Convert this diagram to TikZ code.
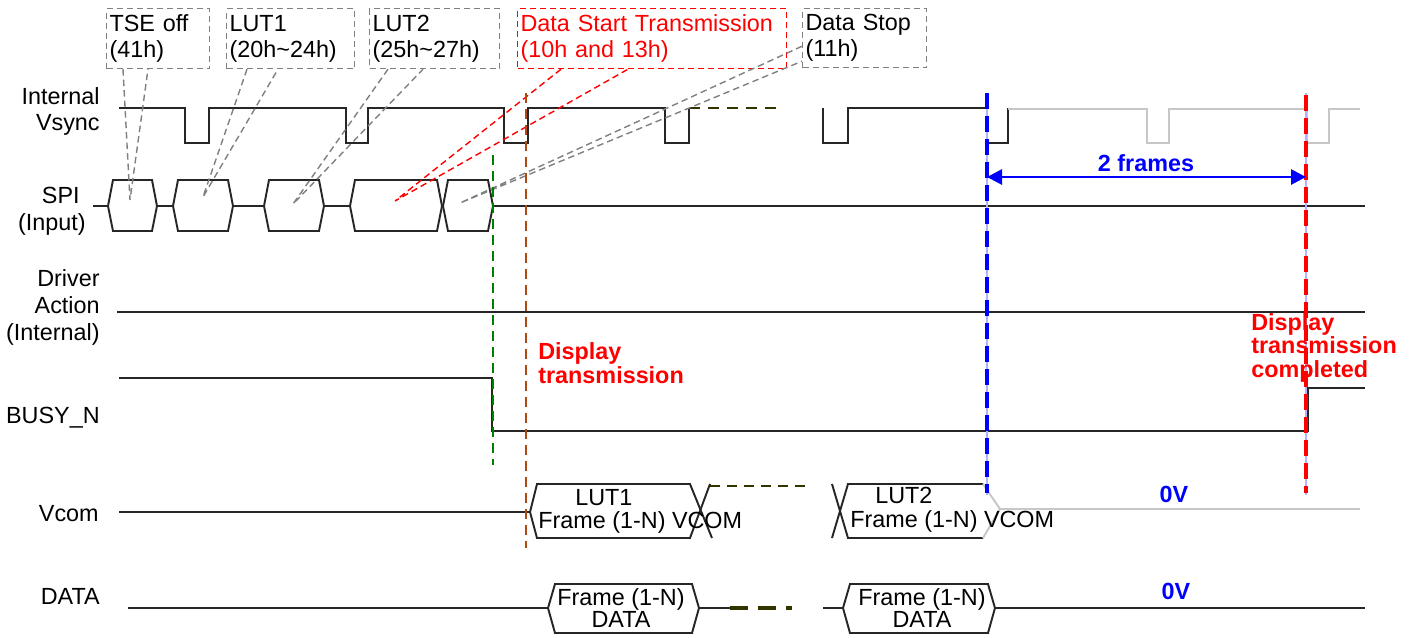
\documentclass[tikz,border=0pt]{standalone}
\usepackage{fontspec}
\setmainfont{Liberation Sans}
\usetikzlibrary{arrows.meta}
\definecolor{rust}{RGB}{176,72,16}
\definecolor{moss}{RGB}{51,51,0}

\begin{document}
\begin{tikzpicture}[x=0.02cm,y=-0.02cm,
        every node/.style={font=\fontsize{13.3}{14.7}\selectfont,inner sep=0pt},
        sig/.style={line width=1.1pt,black!85},
        ghost/.style={line width=1.1pt,black!22},
        note/.style={draw=gray,dash pattern=on 0.12cm off 0.08cm,line width=0.7pt,anchor=north west,align=left,inner xsep=0.06cm,minimum height=1.2cm},
        pointer/.style={gray,dash pattern=on 0.13cm off 0.08cm,line width=0.8pt},
        more/.style={moss,line width=1.1pt,dash pattern=on 0.22cm off 0.16cm},
        guide/.style={line width=1.2pt,dash pattern=on 0.2cm off 0.12cm},
        frame/.style={line width=2.3pt,dash pattern=on 0.32cm off 0.14cm},
        warn/.style={red,font=\fontsize{13.3}{13.2}\selectfont\bfseries,align=left},
        level/.style={blue,font=\fontsize{13.3}{14.7}\selectfont\bfseries}
    ]
    \useasboundingbox (0,0) rectangle (1418,637);

    \node[anchor=base east,align=right] (lvs) at (100,130) {Internal\\Vsync};
    \node[anchor=base east] (lspi) at (80,203) {SPI};
    \node[anchor=base east] (lin) at (86,230) {(Input)};
    \node[anchor=base east,align=right,font=\fontsize{13.3}{15.2}\selectfont] (ldrv) at (100,340) {Driver\\Action\\(Internal)};
    \node[anchor=base east] (lbusy) at (100,423) {BUSY\_N};
    \node[anchor=base east] (lvcom) at (99,521) {Vcom};
    \node[anchor=base east] (ldata) at (100,604) {DATA};

    \node[note,text width=1.94cm] (tse) at (106,8) {TSE off\\(41h)};
    \node[note,text width=2.44cm] (lutA) at (226,8) {LUT1\\(20h\textasciitilde24h)};
    \node[note,text width=2.48cm] (lutB) at (369,8) {LUT2\\(25h\textasciitilde27h)};
    \node[note,draw=red,text=red,text width=5.26cm] (start) at (517,8) {Data Start Transmission\\(10h and 13h)};
    \node[note,text width=2.36cm,minimum height=1.18cm] (stop) at (802,8) {Data Stop\\(11h)};

    \draw[sig] (119,108) -| (185,143) -| (209,108) -| (346,143) -| (368,108) -| (504,143) -| (528,108) -| (665,143) -| (689,108);
    \draw[more] (689,108) -- (783,108);
    \draw[sig] (823,108) |- (848,143) |- (987,108) |- (1008,143) -- (1008,108);
    \draw[ghost] (1008,109) -| (1147,143) -| (1169,109) -| (1307,143) -| (1329,109) -- (1360,109);

    \foreach \a/\b in {108/157,173/233,264/324,350/442,443/493}
        \draw[sig] (\a,206) -- (\a+5,180) -- (\b-5,180) -- (\b,206) -- (\b-5,231) -- (\a+5,231) -- cycle;
    \draw[sig] (93,206) -- (108,206) (157,206) -- (173,206) (233,206) -- (264,206) (324,206) -- (350,206) (493,206) -- (1365,206);

    \coordinate (pTSE) at (130,200);
    \coordinate (pLUTA) at (203,197);
    \coordinate (pLUTB) at (293,204);
    \coordinate (pStart) at (395,201);
    \coordinate (pStop) at (460,203);
    \draw[pointer] ([xshift=0.34cm]tse.south west) -- (pTSE) -- ([xshift=0.84cm]tse.south west);
    \draw[pointer] ([xshift=0.42cm]lutA.south west) -- (pLUTA) -- ([xshift=1.04cm]lutA.south west);
    \draw[pointer] ([xshift=0.38cm]lutB.south west) -- (pLUTB) -- ([xshift=1.08cm]lutB.south west);
    \draw[pointer,red] ([xshift=0.88cm]start.south west) -- (pStart) -- ([xshift=2.22cm]start.south west);
    \draw[pointer] ([yshift=0.44cm]stop.south west) -- (pStop) -- ([yshift=0.14cm]stop.south west);

    \draw[sig] (117,312) -- (1365,312);
    \draw[sig] (119,378) -| (492,431) -| (1308,388) -- (1365,388);

    \draw[sig] (119,512) -- (530,512) -- (537,484) -- (690,484) -- (712,538);
    \draw[sig] (530,512) -- (537,538) -- (690,538) -- (710,484);
    \draw[more,dash pattern=on 0.2cm off 0.14cm] (710,486) -- (805,486);
    \draw[sig] (832,484) -- (848,538) -- (983,538);
    \draw[sig] (832,538) -- (848,484) -- (983,484);
    \draw[ghost] (983,484) -- (1000,509) -- (983,538) (1000,509) -- (1360,509);
    \node[anchor=base west] (tA) at (575,505) {LUT1};
    \node[anchor=base west] (fA) at (538,528) {Frame (1-N) VCOM};
    \node[anchor=base west] (tB) at (875,503) {LUT2};
    \node[anchor=base west] (fB) at (850,527) {Frame (1-N) VCOM};

    \draw[sig] (128,608) -- (548,608) (699,608) -- (730,608) (823,608) -- (843,608) (995,608) -- (1365,608);
    \foreach \a/\b in {548/699,843/995}
        \draw[sig] (\a,608) -- (\a+7,584) -- (\b-7,584) -- (\b,608) -- (\b-7,633) -- (\a+7,633) -- cycle;
    \draw[more,line width=2.4pt,dash pattern=on 0.36cm off 0.2cm] (730,608) -- (792,608);
    \node[anchor=base,align=center,font=\fontsize{13.3}{12.5}\selectfont] (dA) at (621,627) {Frame (1-N)\\DATA};
    \node[anchor=base,align=center,font=\fontsize{13.3}{12.5}\selectfont] (dB) at (922,627) {Frame (1-N)\\DATA};

    \draw[guide,green!50!black] (493,155) -- (493,465);
    \draw[guide,rust] (526,93) -- (526,548);
    \draw[blue!30,line width=0.6pt] (987,93) -- (987,495);
    \draw[frame,blue] (987,93) -- (987,493);
    \draw[blue!30,line width=0.6pt] (1306,93) -- (1306,495);
    \draw[frame,red] (1306,95) -- (1306,493);

    \coordinate (fa) at (987,177);
    \coordinate (fb) at (1306,177);
    \draw[blue,line width=1.6pt,{Triangle[length=0.3cm,width=0.3cm]}-{Triangle[length=0.3cm,width=0.3cm]}] (fa) -- (fb);
    \node[level,anchor=base] (frames) at (1146,171) {2 frames};

    \node[warn,anchor=base west] (shown) at (538,383) {Display\\transmission};
    \node[warn,anchor=base west] (done) at (1251,377) {Display\\transmission\\completed};
    \node[level,anchor=base] (zva) at (1174,502) {0V};
    \node[level,anchor=base] (zvb) at (1176,599) {0V};
\end{tikzpicture}
\end{document}
